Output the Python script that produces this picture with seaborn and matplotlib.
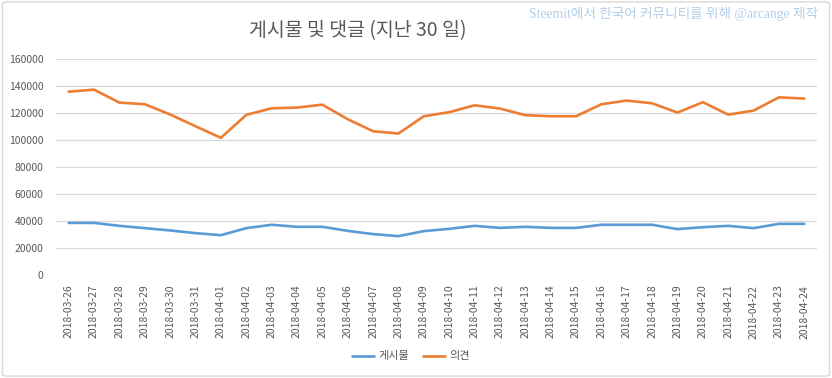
import matplotlib
matplotlib.use("Agg")
import matplotlib.pyplot as plt
import pandas as pd
import seaborn as sns
from matplotlib.patches import FancyBboxPatch

# dates and values
dates = ["2018-03-26", "2018-03-27", "2018-03-28", "2018-03-29", "2018-03-30",
         "2018-03-31", "2018-04-01", "2018-04-02", "2018-04-03", "2018-04-04",
         "2018-04-05", "2018-04-06", "2018-04-07", "2018-04-08", "2018-04-09",
         "2018-04-10", "2018-04-11", "2018-04-12", "2018-04-13", "2018-04-14",
         "2018-04-15", "2018-04-16", "2018-04-17", "2018-04-18", "2018-04-19",
         "2018-04-20", "2018-04-21", "2018-04-22", "2018-04-23", "2018-04-24"]
posts = [38600, 38600, 36400, 34700, 33000, 31000, 29500, 34700, 37200, 35700,
         35700, 32700, 30300, 28800, 32500, 34200, 36400, 34900, 35700, 34900,
         34900, 37200, 37200, 37200, 34000, 35400, 36400, 34700, 37900, 37900]
comments = [135800, 137300, 127700, 126500, 118900, 110200, 101600, 118600, 123500, 124000,
            126200, 115400, 106500, 104800, 117600, 120600, 125700, 123300, 118400, 117600,
            117600, 126500, 129200, 127200, 120300, 128000, 118800, 121800, 131600, 130700]
series_names = ["게시물", "의견"]
y_ticks = [0, 20000, 40000, 60000, 80000, 100000, 120000, 140000, 160000]

df = pd.DataFrame({
    "date": dates * 2,
    "value": posts + comments,
    "series": [series_names[0]] * len(dates) + [series_names[1]] * len(dates),
})

sns.set_style("white")
plt.rcParams["font.family"] = ["Noto Sans CJK KR", "DejaVu Sans"]

fig = plt.figure(figsize=(8.32, 3.78), dpi=100)
ax = fig.add_axes([0.0673, 0.2725, 0.9147, 0.5714])

sns.lineplot(data=df, x="date", y="value", hue="series", sort=False,
             palette=["#5B9BD5", "#ED7D31"], linewidth=1.9, ax=ax)

ax.set_xlim(-0.5, len(dates) - 0.5)
ax.set_ylim(0, 160000)
ax.set_yticks(y_ticks)
ax.set_yticklabels([str(v) for v in y_ticks])
ax.grid(axis="y", color="#d9d9d9", linewidth=0.9)
ax.set_axisbelow(True)
for s in ax.spines.values():
    s.set_visible(False)
ax.tick_params(axis="x", rotation=90, labelsize=7.5, colors="#595959", pad=7, length=0)
ax.tick_params(axis="y", labelsize=7.5, colors="#595959", pad=9, length=0)
for lbl in ax.get_xticklabels():
    lbl.set_verticalalignment("top")
ax.set_xlabel("")
ax.set_ylabel("")

leg = ax.legend(loc="center", bbox_to_anchor=(0.494, 0.057), bbox_transform=fig.transFigure,
                ncol=2, frameon=False, fontsize=8, handlelength=2.0, columnspacing=1.2,
                handletextpad=0.4)
for t in leg.get_texts():
    t.set_color("#595959")

fig.text(0.43, 0.92, "게시물 및 댓글 (지난 30 일)", ha="center", va="center",
         fontsize=14, color="#595959", fontweight="light")
fig.text(0.983, 0.963, "Steemit에서 한국어 커뮤니티를 위해 @arcange 제작", ha="right",
         va="center", fontsize=9.8, color="#b4cfea",
         family=["Liberation Serif", "Noto Sans CJK KR"])

border = FancyBboxPatch((0.003, 0.005), 0.994, 0.99, boxstyle="round,pad=0,rounding_size=0.006",
                        transform=fig.transFigure, fill=False, edgecolor="#d9d9d9", linewidth=1)
fig.patches.append(border)

fig.savefig("out.png", dpi=100)
